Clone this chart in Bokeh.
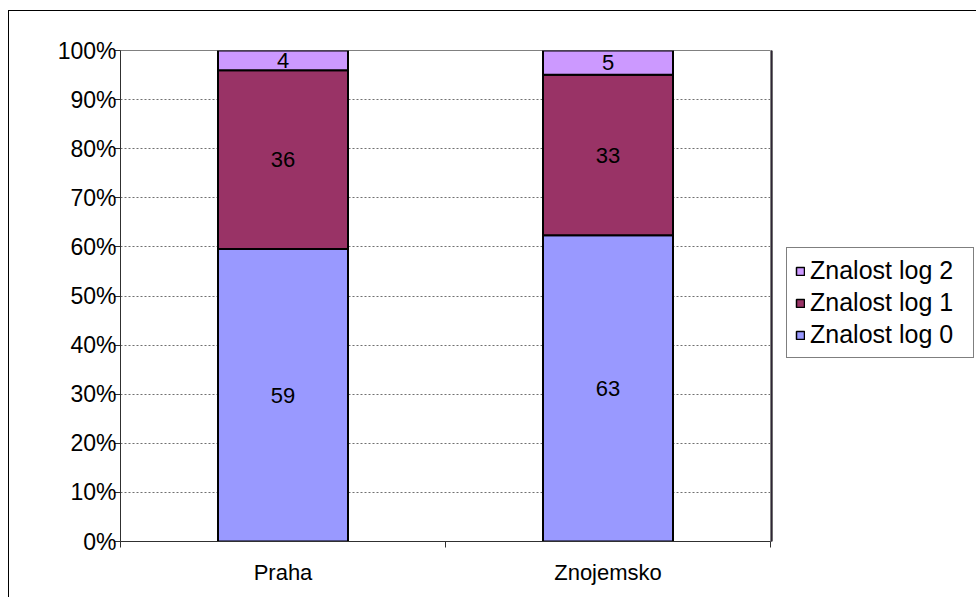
from bokeh.plotting import figure
from bokeh.layouts import row
from bokeh.models import (ColumnDataSource, FixedTicker, NumeralTickFormatter,
                          Legend, LegendItem, LabelSet)
from bokeh.core.properties import value
from bokeh.embed import file_html
from bokeh.resources import INLINE

# Counts per region and knowledge level
categories = ["Praha", "Znojemsko"]
log0 = [59, 63]
log1 = [36, 33]
log2 = [4, 5]
series_names = ["Znalost log 0", "Znalost log 1", "Znalost log 2"]
colors = ["#9999FF", "#993366", "#CC99FF"]

FONT = "Liberation Sans"

# Normalise each column to 100 %
xs = [i + 0.5 for i in range(len(categories))]
totals = [a + b + c for a, b, c in zip(log0, log1, log2)]
layers = [log0, log1, log2]
bottoms = [0.0] * len(categories)
sources = []
for vals in layers:
    tops = [b + v / t for b, v, t in zip(bottoms, vals, totals)]
    sources.append(ColumnDataSource(dict(
        x=xs, bottom=list(bottoms), top=tops,
        mid=[(b + t) / 2 for b, t in zip(bottoms, tops)],
        label=[str(v) for v in vals])))
    bottoms = tops

p = figure(width=762, height=586, x_range=(0, 2), y_range=(0, 1),
           output_backend="svg", toolbar_location=None,
           min_border_left=111, min_border_right=1,
           min_border_top=39, min_border_bottom=56)
p.background_fill_color = "white"
p.border_fill_color = "white"
p.outline_line_color = "#808080"
p.outline_line_width = 1

for src, col in zip(sources, colors):
    p.vbar(x="x", bottom="bottom", top="top", width=0.4, source=src,
           fill_color=col, line_color="black", line_width=2)
    p.add_layout(LabelSet(x="x", y="mid", text="label", source=src,
                          text_align="center", text_baseline="middle",
                          text_font=value(FONT), text_font_size="22px",
                          text_color="black"))

# Y axis: percent ticks every 10 %
p.yaxis.ticker = FixedTicker(ticks=[i / 10 for i in range(11)])
p.yaxis.formatter = NumeralTickFormatter(format="0%")
p.yaxis.major_label_text_font = FONT
p.yaxis.major_label_text_font_size = "23px"
p.yaxis.major_label_text_color = "black"
p.yaxis.major_tick_in = 0
p.yaxis.major_tick_out = 6
p.yaxis.minor_tick_out = 0
p.yaxis.minor_tick_in = 0
p.yaxis.major_label_standoff = -2
p.yaxis.axis_line_color = "#303030"
p.yaxis.major_tick_line_color = "#303030"

# X axis: names centred under bars, tick marks between categories
p.xaxis.ticker = FixedTicker(ticks=xs, minor_ticks=list(range(len(categories) + 1)))
p.xaxis.major_label_overrides = {x: c for x, c in zip(xs, categories)}
p.xaxis.major_label_text_font = FONT
p.xaxis.major_label_text_font_size = "22px"
p.xaxis.major_label_text_color = "black"
p.xaxis.major_tick_out = 0
p.xaxis.major_tick_in = 0
p.xaxis.minor_tick_out = 6
p.xaxis.minor_tick_in = 0
p.xaxis.major_label_standoff = 12
p.xaxis.axis_line_color = "#303030"
p.xaxis.minor_tick_line_color = "#303030"

p.xgrid.visible = False
p.ygrid.grid_line_color = "#707070"
p.ygrid.grid_line_dash = "2 2"
p.ygrid.grid_line_width = 1

# Legend panel to the right of the plot area
lg = figure(width=205, height=586, x_range=(0, 1), y_range=(0, 1),
            output_backend="svg", toolbar_location=None,
            x_axis_type=None, y_axis_type=None,
            min_border_left=0, min_border_right=0,
            min_border_top=0, min_border_bottom=0)
lg.outline_line_color = None
lg.grid.visible = False
lg.background_fill_color = "white"
lg.border_fill_color = "white"

# Off-range proxy bars that only supply the legend swatches
swatches = []
for col in colors:
    swatches.append(lg.vbar(x=[-5], bottom=[0], top=[1], width=0.4,
                            fill_color=col, line_color="black", line_width=1.5))

legend = Legend(items=[LegendItem(label=n, renderers=[r])
                       for n, r in reversed(list(zip(series_names, swatches)))],
                location=(15, 183),
                label_text_font=FONT, label_text_font_size="25px",
                label_text_color="black",
                glyph_width=10, glyph_height=10, label_standoff=5,
                padding=8, spacing=3, label_height=28, label_width=155,
                border_line_color="black", border_line_width=1,
                background_fill_color="white", margin=0)
lg.add_layout(legend, "center")

layout = row(p, lg, spacing=0)
layout.margin = (10, 0, 0, 8)
layout.styles = {"border-left": "1px solid black", "border-top": "1px solid black"}

open("out.html", "w").write(file_html(layout, INLINE))
